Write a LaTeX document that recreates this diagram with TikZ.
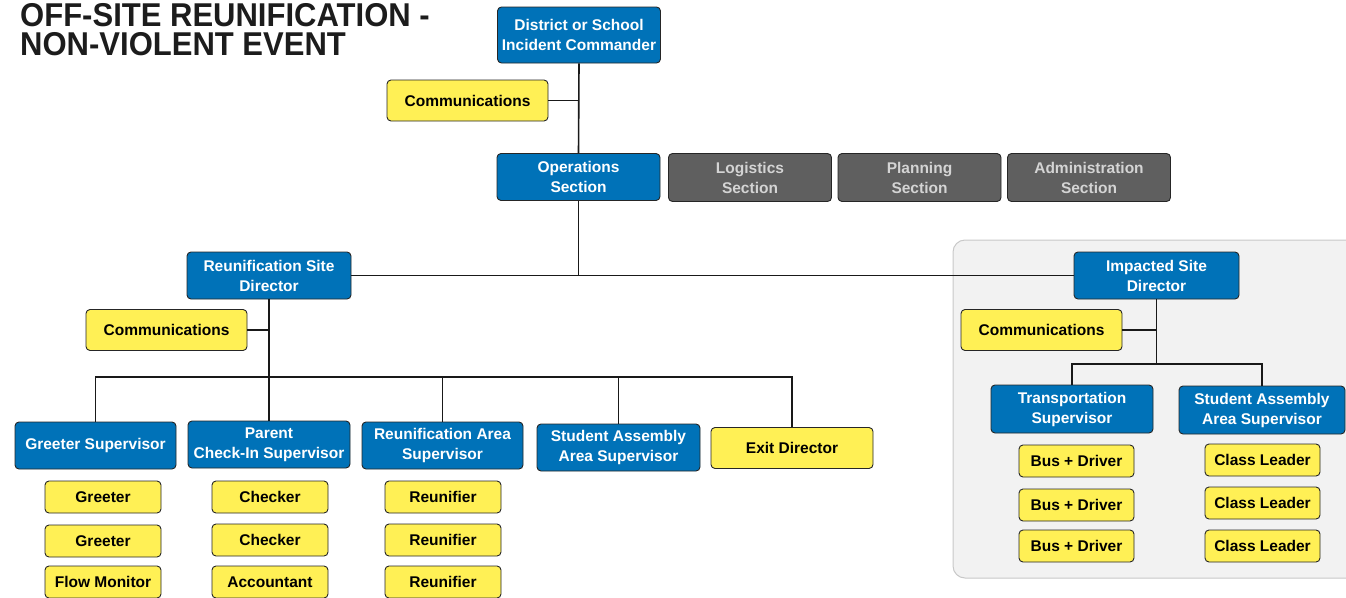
\documentclass[tikz,border=0pt]{standalone}
\usepackage{fontspec}
\setmainfont{Liberation Sans}
\newfontfamily\titlefont{Liberation Sans}[FakeStretch=0.94]
\definecolor{myblue}{RGB}{0,114,184}
\definecolor{myyellow}{RGB}{255,240,85}
\definecolor{mygray}{RGB}{95,95,95}
\definecolor{mygraytext}{RGB}{212,212,212}
\definecolor{panelfill}{RGB}{242,242,242}
\definecolor{paneldraw}{RGB}{200,200,200}
\definecolor{titlecol}{RGB}{28,28,28}
\begin{document}
\begin{tikzpicture}[x=1pt,y=-1pt,
  box/.style={draw=black!85, line width=0.9pt, rounded corners=4pt, inner sep=0pt, align=center,
    font=\bfseries\fontsize{15.5}{20}\selectfont, minimum width=163pt, minimum height=47pt},
  bluebox/.style={box, fill=myblue, text=white},
  yellowbox/.style={box, fill=myyellow, text=black, minimum width=161pt, minimum height=41pt},
  graybox/.style={box, fill=mygray, text=mygraytext, minimum height=48pt},
  smallbox/.style={box, fill=myyellow, text=black, minimum width=116pt, minimum height=32pt},
  titletext/.style={anchor=north west, inner sep=0pt, align=left, text=titlecol, font=\titlefont\bfseries\fontsize{33}{28.5}\selectfont},
  link/.style={draw=black!90, line width=1.6pt}
]
\useasboundingbox (0,0) rectangle (1346,597);
% panel
\draw[fill=panelfill, draw=paneldraw, line width=1pt, rounded corners=12pt] (953,240) rectangle (1380,578);

% title
\node[titletext] (title) at (20,3.3) {OFF-SITE REUNIFICATION -\\NON-VIOLENT EVENT};

% top
\node[bluebox, minimum height=56pt] (ic) at (579,35) {District or School\\Incident Commander};
\node[yellowbox] (comm1) at (467.5,100.5) {Communications};
\node[bluebox] (ops) at (578.5,177) {Operations\\Section};
\node[graybox] (log) at (750,177.5) {Logistics\\Section};
\node[graybox] (plan) at (919.5,177.5) {Planning\\Section};
\node[graybox] (adm) at (1089,177.5) {Administration\\Section};

% left branch
\node[bluebox, minimum width=164pt] (rsd) at (269,275.5) {Reunification Site\\Director};
\node[yellowbox] (comm2) at (166.5,330) {Communications};
\coordinate (lbus) at (0,377);
\node[bluebox, minimum width=161pt] (gs) at (95.5,445.5) {Greeter Supervisor};
\node[bluebox, minimum width=162pt] (pc) at (269,444.5) {Parent\\Check-In Supervisor};
\node[bluebox, minimum width=161pt] (ra) at (442.5,445.5) {Reunification Area\\Supervisor};
\node[bluebox, minimum width=163pt] (sa) at (618.5,447.5) {Student Assembly\\Area Supervisor};
\node[yellowbox, minimum width=162pt] (ex) at (792,448) {Exit Director};

\node[smallbox] (g1) at (103,497) {Greeter};
\node[smallbox] (g2) at (103,541) {Greeter};
\node[smallbox] (g3) at (103,582) {Flow Monitor};
\node[smallbox] (c1) at (270,497) {Checker};
\node[smallbox] (c2) at (270,540) {Checker};
\node[smallbox] (c3) at (270,582) {Accountant};
\node[smallbox] (r1) at (443,497) {Reunifier};
\node[smallbox] (r2) at (443,540) {Reunifier};
\node[smallbox] (r3) at (443,582) {Reunifier};

% right branch
\node[bluebox, minimum width=165pt] (isd) at (1156.5,275.5) {Impacted Site\\Director};
\node[yellowbox] (comm3) at (1041.5,330) {Communications};
\coordinate (rbus) at (0,364);
\node[bluebox, minimum width=162pt, minimum height=48pt] (ts) at (1072,409) {Transportation\\Supervisor};
\node[bluebox, minimum width=166pt, minimum height=48pt] (sa2) at (1262,410) {Student Assembly\\Area Supervisor};
\node[smallbox, minimum width=115pt] (b1) at (1076.5,461) {Bus + Driver};
\node[smallbox, minimum width=115pt] (b2) at (1076.5,505) {Bus + Driver};
\node[smallbox, minimum width=115pt] (b3) at (1076.5,546) {Bus + Driver};
\node[smallbox, minimum width=115pt] (l1) at (1262.5,460) {Class Leader};
\node[smallbox, minimum width=115pt] (l2) at (1262.5,503) {Class Leader};
\node[smallbox, minimum width=115pt] (l3) at (1262.5,546) {Class Leader};

% connectors
\draw[link] (ic.south) -- (ops.north);
\draw[link] (comm1.east) -- (comm1.east -| ic.south);
\draw[link] (ops.south) -- (ops.south |- rsd.east);
\draw[link] (rsd.east) -- (isd.west);
\draw[link] (rsd.south) -- (rsd.south |- lbus);
\draw[link] (comm2.east) -- (comm2.east -| rsd.south);
\draw[link] (gs.north) -- (gs.north |- lbus) -- (ex.north |- lbus) -- (ex.north);
\draw[link] (pc.north) -- (pc.north |- lbus);
\draw[link] (ra.north) -- (ra.north |- lbus);
\draw[link] (sa.north) -- (sa.north |- lbus);
\draw[link] (isd.south) -- (isd.south |- rbus);
\draw[link] (comm3.east) -- (comm3.east -| isd.south);
\draw[link] (ts.north) -- (ts.north |- rbus) -- (sa2.north |- rbus) -- (sa2.north);
\end{tikzpicture}
\end{document}
